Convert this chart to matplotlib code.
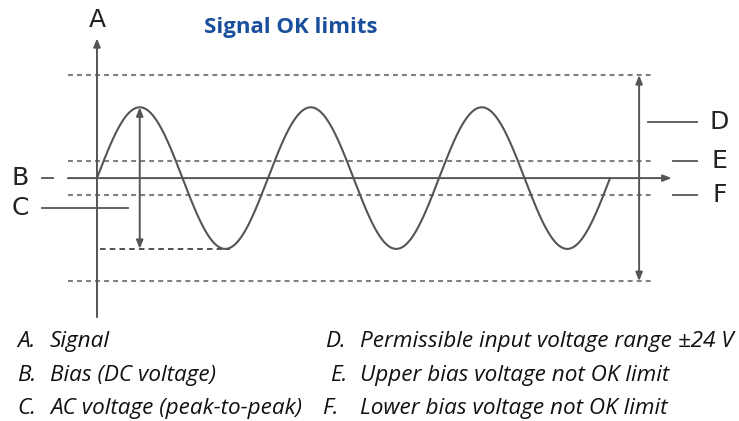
import numpy as np
import matplotlib
matplotlib.use("Agg")
import matplotlib.pyplot as plt
from matplotlib import font_manager

# Signal and limit values (volts, time in signal periods)
cycles = 3
amplitude = 16.5
range_limit = 24
bias_upper = 4
bias_lower = -4

legend_keys = ["A.", "B.", "C.", "D.", "E.", "F."]
legend_texts = ["Signal", "Bias (DC voltage)", "AC voltage (peak-to-peak)",
                "Permissible input voltage range \u00b124 V",
                "Upper bias voltage not OK limit",
                "Lower bias voltage not OK limit"]

installed = {f.name for f in font_manager.fontManager.ttflist}
narrow = [f for f in ["Liberation Sans Narrow", "Open Sans", "DejaVu Sans"] if f in installed]

plt.rcParams["lines.scale_dashes"] = False
grey = "#555555"
dash_grey = "#808080"

fig = plt.figure(figsize=(7.39, 4.21), dpi=100)
ax = fig.add_axes([0, 0, 1, 1])
ax.set_xlim(-0.567, 3.754)
ax.set_ylim(-56.6, 41.5)
ax.axis("off")

# dashed limit lines
for lvl in [range_limit, bias_upper, bias_lower, -range_limit]:
    ax.plot([-0.17, 3.25], [lvl, lvl], color=dash_grey, lw=1.5, ls=(0, (3.5, 3)))

# signal
t = np.linspace(0, cycles, 800)
ax.plot(t, amplitude * np.sin(2 * np.pi * t), color=grey, lw=1.5, zorder=3)

# axes
arrow = dict(arrowstyle="-|>,head_length=0.5,head_width=0.2", color=grey, lw=1.4,
             shrinkA=0, shrinkB=0)
ax.annotate("", xy=(0, 32.6), xytext=(0, -32.4), arrowprops=arrow)
ax.annotate("", xy=(3.36, 0), xytext=(-0.17, 0), arrowprops=arrow)

# peak-to-peak and permissible range arrows
darrow = dict(arrowstyle="<|-|>,head_length=0.5,head_width=0.2", color=grey, lw=1.4,
              shrinkA=0, shrinkB=0)
ax.annotate("", xy=(0.25, amplitude), xytext=(0.25, -amplitude), arrowprops=darrow)
ax.annotate("", xy=(3.17, range_limit), xytext=(3.17, -range_limit), arrowprops=darrow)
ax.plot([0.018, 0.78], [-amplitude, -amplitude], color="#333333", lw=1.2, ls=(0, (4, 3)))

# label leaders
ax.plot([-0.32, -0.26], [0, 0], color=grey, lw=1.3)
ax.plot([-0.32, 0.18], [-7, -7], color=grey, lw=1.3)
ax.plot([3.22, 3.51], [13, 13], color=grey, lw=1.3)
ax.plot([3.37, 3.51], [bias_upper, bias_upper], color=grey, lw=1.3)
ax.plot([3.37, 3.51], [bias_lower, bias_lower], color=grey, lw=1.3)

lab = dict(fontsize=18, color="#222222", va="center", family="DejaVu Sans")
ax.text(0, 36.8, "A", ha="center", **lab)
ax.text(-0.45, 0, "B", ha="center", **lab)
ax.text(-0.45, -7, "C", ha="center", **lab)
ax.text(3.64, 13, "D", ha="center", **lab)
ax.text(3.64, bias_upper, "E", ha="center", **lab)
ax.text(3.64, bias_lower, "F", ha="center", **lab)

ax.text(1.135, 35.2, "Signal OK limits", ha="center", va="center", fontsize=16,
        fontweight="bold", color="#1a4f9c", family=narrow)

# legend
rows = [-38, -46.1, -53.6]
key_x = [-0.468, -0.468, -0.468, 1.332, 1.36, 1.316]
leg = dict(fontsize=16.2, style="italic", color="#111111", va="center", family=narrow)
for i, (k, txt) in enumerate(zip(legend_keys, legend_texts)):
    y = rows[i % 3]
    ax.text(key_x[i], y, k, ha="left", **leg)
    ax.text(-0.275 if i < 3 else 1.54, y, txt, ha="left", **leg)

fig.savefig("out.png", dpi=100)
